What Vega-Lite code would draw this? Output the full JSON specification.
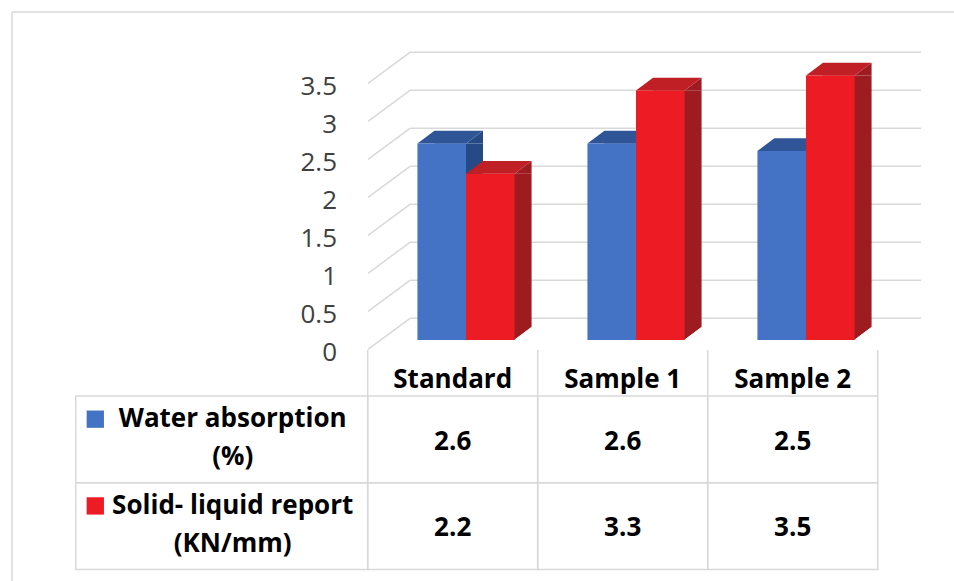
{
  "$schema": "https://vega.github.io/schema/vega-lite/v6.json",
  "width": 942,
  "height": 569,
  "autosize": {"type": "none"},
  "padding": {"left": 12, "top": 12, "right": 0, "bottom": 0},
  "background": "white",
  "config": {
    "view": {"stroke": null},
    "text": {"font": "Open Sans"}
  },
  "datasets": {
    "table": [
      {"cat": "Standard", "series": "Water absorption (%)", "value": 2.6},
      {"cat": "Sample 1", "series": "Water absorption (%)", "value": 2.6},
      {"cat": "Sample 2", "series": "Water absorption (%)", "value": 2.5},
      {"cat": "Standard", "series": "Solid- liquid report (KN/mm)", "value": 2.2},
      {"cat": "Sample 1", "series": "Solid- liquid report (KN/mm)", "value": 3.3},
      {"cat": "Sample 2", "series": "Solid- liquid report (KN/mm)", "value": 3.5}
    ],
    "series": [
      {"series": "Water absorption (%)", "label": "Water absorption\n(%)"},
      {"series": "Solid- liquid report (KN/mm)", "label": "Solid- liquid report\n(KN/mm)"}
    ],
    "ticks": [
      {"v": 0}, {"v": 0.5}, {"v": 1}, {"v": 1.5}, {"v": 2}, {"v": 2.5}, {"v": 3}, {"v": 3.5}
    ],
    "frame": [{"side": "top"}]
  },
  "resolve": {"scale": {"x": "independent", "y": "independent", "xOffset": "independent", "color": "independent"}},
  "layer": [
    {
      "data": {"name": "frame"},
      "mark": {"type": "rule", "color": "#d9d9d9", "strokeWidth": 1.5},
      "encoding": {
        "x": {"datum": 0, "type": "quantitative", "scale": {"domain": [0, 1], "range": [0, 942]}, "axis": null},
        "x2": {"datum": 1},
        "y": {"datum": 0, "type": "quantitative", "scale": {"domain": [0, 1], "range": [0, 569]}, "axis": null}
      }
    },
    {
      "data": {"name": "frame"},
      "mark": {"type": "rule", "color": "#d9d9d9", "strokeWidth": 1.5},
      "encoding": {
        "x": {"datum": 0, "type": "quantitative", "scale": {"domain": [0, 1], "range": [0, 942]}, "axis": null},
        "y": {"datum": 0, "type": "quantitative", "scale": {"domain": [0, 1], "range": [0, 569]}, "axis": null},
        "y2": {"datum": 1}
      }
    },
    {
      "data": {"name": "ticks"},
      "mark": {"type": "rule", "color": "#d9d9d9", "strokeWidth": 1.5},
      "encoding": {
        "x": {"datum": 0, "type": "quantitative", "scale": {"domain": [0, 1], "range": [398, 909]}, "axis": null},
        "x2": {"datum": 1},
        "y": {"field": "v", "type": "quantitative", "scale": {"domain": [0, 3.5], "range": [306.3, 40.3], "nice": false, "zero": false}, "axis": null}
      }
    },
    {
      "data": {"name": "ticks"},
      "mark": {"type": "point", "shape": "M0,0L0.84,-0.62", "size": 10000, "filled": false, "color": "#d9d9d9", "strokeWidth": 1.5, "opacity": 1},
      "encoding": {
        "x": {"datum": 0, "type": "quantitative", "scale": {"domain": [0, 1], "range": [356, 398]}, "axis": null},
        "y": {"field": "v", "type": "quantitative", "scale": {"domain": [0, 3.5], "range": [337.3, 71.3], "nice": false, "zero": false}, "axis": null}
      }
    },
    {
      "data": {"name": "ticks"},
      "mark": {"type": "text", "align": "right", "baseline": "alphabetic", "dx": -31, "dy": 11.5, "fontSize": 26, "color": "#404040"},
      "encoding": {
        "x": {"datum": 0, "type": "quantitative", "scale": {"domain": [0, 1], "range": [356, 398]}, "axis": null},
        "y": {"field": "v", "type": "quantitative", "scale": {"domain": [0, 3.5], "range": [337.3, 71.3], "nice": false, "zero": false}, "axis": null},
        "text": {"field": "v", "type": "nominal"}
      }
    },
    {
      "data": {"name": "table"},
      "mark": {"type": "bar"},
      "encoding": {
        "x": {"field": "cat", "type": "nominal", "sort": null, "scale": {"domain": ["Standard", "Sample 1", "Sample 2"], "range": [386, 896], "paddingInner": 0, "paddingOuter": 0}, "axis": null},
        "xOffset": {"field": "series", "type": "nominal", "sort": null, "scale": {"type": "band", "domain": ["Water absorption (%)", "Solid- liquid report (KN/mm)"], "paddingInner": 0, "paddingOuter": 0.75}},
        "y": {"field": "value", "type": "quantitative", "scale": {"domain": [0, 3.5], "range": [328, 63.4], "nice": false, "zero": false}, "axis": null},
        "color": {"field": "series", "type": "nominal", "scale": {"domain": ["Water absorption (%)", "Solid- liquid report (KN/mm)"], "range": ["#264A86", "#9E1B20"]}, "legend": null}
      }
    },
    {
      "data": {"name": "table"},
      "mark": {"type": "point", "shape": "M0.486,0L0.826,-0.254L0.826,0Z", "size": 10000, "filled": true, "opacity": 1, "strokeWidth": 0},
      "encoding": {
        "x": {"field": "cat", "type": "nominal", "sort": null, "scale": {"domain": ["Standard", "Sample 1", "Sample 2"], "range": [369, 879], "paddingInner": 0, "paddingOuter": 0}, "axis": null},
        "xOffset": {"field": "series", "type": "nominal", "sort": null, "scale": {"type": "band", "domain": ["Water absorption (%)", "Solid- liquid report (KN/mm)"], "paddingInner": 0, "paddingOuter": 0.75}},
        "y": {"field": "value", "type": "quantitative", "scale": {"domain": [0, 3.5], "range": [328, 63.4], "nice": false, "zero": false}, "axis": null},
        "color": {"field": "series", "type": "nominal", "scale": {"domain": ["Water absorption (%)", "Solid- liquid report (KN/mm)"], "range": ["#264A86", "#9E1B20"]}, "legend": null}
      }
    },
    {
      "data": {"name": "table"},
      "mark": {"type": "point", "shape": "M0.486,0L0.826,-0.254L0.826,0.01Z", "size": 10000, "filled": true, "opacity": 1, "color": "white", "stroke": "white", "strokeWidth": 1},
      "encoding": {
        "x": {"field": "cat", "type": "nominal", "sort": null, "scale": {"domain": ["Standard", "Sample 1", "Sample 2"], "range": [369, 879], "paddingInner": 0, "paddingOuter": 0}, "axis": null},
        "xOffset": {"field": "series", "type": "nominal", "sort": null, "scale": {"type": "band", "domain": ["Water absorption (%)", "Solid- liquid report (KN/mm)"], "paddingInner": 0, "paddingOuter": 0.75}},
        "y": {"datum": 0, "type": "quantitative", "scale": {"domain": [0, 3.5], "range": [328, 63.4], "nice": false, "zero": false}, "axis": null}
      }
    },
    {
      "data": {"name": "table"},
      "mark": {"type": "point", "shape": "M-0.486,0L0.486,0L0.826,-0.254L-0.146,-0.254Z", "size": 10000, "filled": true, "opacity": 1, "strokeWidth": 0},
      "encoding": {
        "x": {"field": "cat", "type": "nominal", "sort": null, "scale": {"domain": ["Standard", "Sample 1", "Sample 2"], "range": [369, 879], "paddingInner": 0, "paddingOuter": 0}, "axis": null},
        "xOffset": {"field": "series", "type": "nominal", "sort": null, "scale": {"type": "band", "domain": ["Water absorption (%)", "Solid- liquid report (KN/mm)"], "paddingInner": 0, "paddingOuter": 0.75}},
        "y": {"field": "value", "type": "quantitative", "scale": {"domain": [0, 3.5], "range": [328, 63.4], "nice": false, "zero": false}, "axis": null},
        "color": {"field": "series", "type": "nominal", "scale": {"domain": ["Water absorption (%)", "Solid- liquid report (KN/mm)"], "range": ["#2F5597", "#C01F26"]}, "legend": null}
      }
    },
    {
      "data": {"name": "table"},
      "mark": {"type": "bar"},
      "encoding": {
        "x": {"field": "cat", "type": "nominal", "sort": null, "scale": {"domain": ["Standard", "Sample 1", "Sample 2"], "range": [369, 879], "paddingInner": 0, "paddingOuter": 0}, "axis": null},
        "xOffset": {"field": "series", "type": "nominal", "sort": null, "scale": {"type": "band", "domain": ["Water absorption (%)", "Solid- liquid report (KN/mm)"], "paddingInner": 0, "paddingOuter": 0.75}},
        "y": {"field": "value", "type": "quantitative", "scale": {"domain": [0, 3.5], "range": [328, 63.4], "nice": false, "zero": false}, "axis": null},
        "color": {"field": "series", "type": "nominal", "scale": {"domain": ["Water absorption (%)", "Solid- liquid report (KN/mm)"], "range": ["#4472C4", "#ED1C24"]}, "legend": null}
      }
    },
    {
      "data": {"name": "table"},
      "transform": [{"filter": "datum.series == 'Water absorption (%)'"}],
      "mark": {"type": "rule", "color": "#d9d9d9", "strokeWidth": 1.5},
      "encoding": {
        "x": {"field": "cat", "type": "nominal", "bandPosition": 0, "sort": null, "scale": {"domain": ["Standard", "Sample 1", "Sample 2"], "range": [355.7, 865.7], "paddingInner": 0, "paddingOuter": 0}, "axis": null},
        "y": {"datum": 0, "type": "quantitative", "scale": {"domain": [0, 1], "range": [338, 384]}, "axis": null},
        "y2": {"datum": 1}
      }
    },
    {
      "data": {"name": "table"},
      "transform": [{"filter": "datum.series == 'Water absorption (%)' && datum.cat == 'Sample 2'"}],
      "mark": {"type": "rule", "color": "#d9d9d9", "strokeWidth": 1.5},
      "encoding": {
        "x": {"field": "cat", "type": "nominal", "bandPosition": 1, "sort": null, "scale": {"domain": ["Standard", "Sample 1", "Sample 2"], "range": [355.7, 865.7], "paddingInner": 0, "paddingOuter": 0}, "axis": null},
        "y": {"datum": 0, "type": "quantitative", "scale": {"domain": [0, 1], "range": [338, 384]}, "axis": null},
        "y2": {"datum": 1}
      }
    },
    {
      "data": {"name": "table"},
      "mark": {"type": "rect", "fillOpacity": 0, "stroke": "#d9d9d9", "strokeWidth": 1.5},
      "encoding": {
        "x": {"field": "cat", "type": "nominal", "sort": null, "scale": {"domain": ["Standard", "Sample 1", "Sample 2"], "range": [355.7, 865.7], "paddingInner": 0, "paddingOuter": 0}, "axis": null},
        "y": {"field": "series", "type": "nominal", "sort": null, "scale": {"domain": ["Water absorption (%)", "Solid- liquid report (KN/mm)"], "range": [384, 557.5], "paddingInner": 0, "paddingOuter": 0}, "axis": null}
      }
    },
    {
      "data": {"name": "series"},
      "mark": {"type": "rect", "fillOpacity": 0, "stroke": "#d9d9d9", "strokeWidth": 1.5},
      "encoding": {
        "x": {"datum": 0, "type": "quantitative", "scale": {"domain": [0, 1], "range": [63.7, 355.7]}, "axis": null},
        "x2": {"datum": 1},
        "y": {"field": "series", "type": "nominal", "sort": null, "scale": {"domain": ["Water absorption (%)", "Solid- liquid report (KN/mm)"], "range": [384, 557.5], "paddingInner": 0, "paddingOuter": 0}, "axis": null}
      }
    },
    {
      "data": {"name": "table"},
      "mark": {"type": "text", "fontSize": 26, "fontWeight": "bold", "color": "#000000", "baseline": "alphabetic", "dy": 10.3},
      "encoding": {
        "x": {"field": "cat", "type": "nominal", "sort": null, "scale": {"domain": ["Standard", "Sample 1", "Sample 2"], "range": [355.7, 865.7], "paddingInner": 0, "paddingOuter": 0}, "axis": null},
        "y": {"field": "series", "type": "nominal", "sort": null, "scale": {"domain": ["Water absorption (%)", "Solid- liquid report (KN/mm)"], "range": [384, 557.5], "paddingInner": 0, "paddingOuter": 0}, "axis": null},
        "text": {"field": "value", "type": "nominal"}
      }
    },
    {
      "data": {"name": "table"},
      "transform": [{"filter": "datum.series == 'Water absorption (%)'"}],
      "mark": {"type": "text", "fontSize": 26, "fontWeight": "bold", "color": "#000000", "baseline": "alphabetic", "dy": -7.7},
      "encoding": {
        "x": {"field": "cat", "type": "nominal", "sort": null, "scale": {"domain": ["Standard", "Sample 1", "Sample 2"], "range": [355.7, 865.7], "paddingInner": 0, "paddingOuter": 0}, "axis": null},
        "y": {"datum": 1, "type": "quantitative", "scale": {"domain": [0, 1], "range": [338, 384]}, "axis": null},
        "text": {"field": "cat", "type": "nominal"}
      }
    },
    {
      "data": {"name": "series"},
      "mark": {"type": "text", "fontSize": 26, "fontWeight": "bold", "color": "#000000", "baseline": "alphabetic", "lineBreak": "\n", "lineHeight": 38, "dx": 11, "dy": -12},
      "encoding": {
        "x": {"datum": 0.5, "type": "quantitative", "scale": {"domain": [0, 1], "range": [63.7, 355.7]}, "axis": null},
        "y": {"field": "series", "type": "nominal", "sort": null, "scale": {"domain": ["Water absorption (%)", "Solid- liquid report (KN/mm)"], "range": [384, 557.5], "paddingInner": 0, "paddingOuter": 0}, "axis": null},
        "text": {"field": "label", "type": "nominal"}
      }
    },
    {
      "data": {"name": "series"},
      "mark": {"type": "point", "shape": "M0.365,-0.962L0.942,-0.962L0.942,-0.385L0.365,-0.385Z", "size": 3600, "filled": true, "opacity": 1, "strokeWidth": 0},
      "encoding": {
        "x": {"datum": 0, "type": "quantitative", "scale": {"domain": [0, 1], "range": [63.7, 355.7]}, "axis": null},
        "y": {"field": "series", "type": "nominal", "sort": null, "scale": {"domain": ["Water absorption (%)", "Solid- liquid report (KN/mm)"], "range": [384, 557.5], "paddingInner": 0, "paddingOuter": 0}, "axis": null},
        "color": {"field": "series", "type": "nominal", "scale": {"domain": ["Water absorption (%)", "Solid- liquid report (KN/mm)"], "range": ["#4472C4", "#ED1C24"]}, "legend": null}
      }
    }
  ]
}
